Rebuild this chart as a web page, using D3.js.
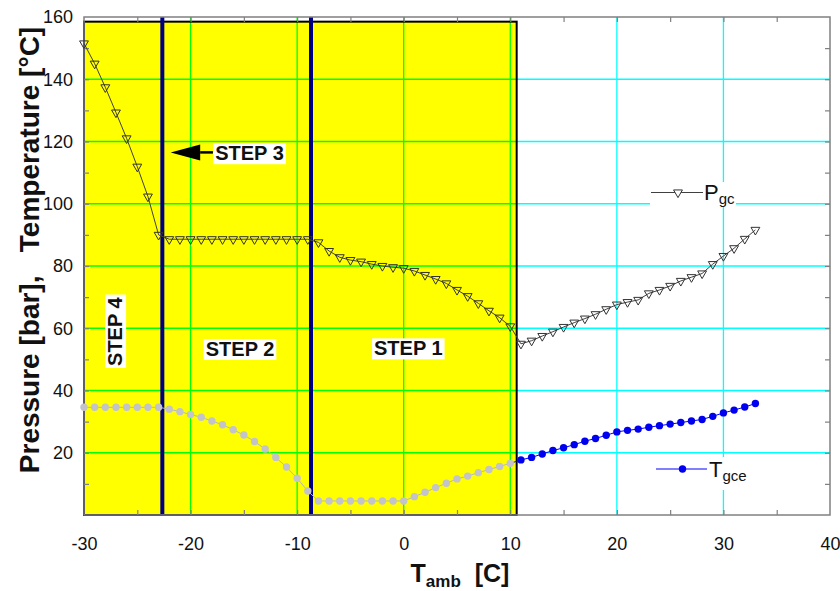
<!DOCTYPE html>
<html>
<head>
<meta charset="utf-8">
<script src="https://cdn.jsdelivr.net/npm/d3@7"></script>
<style>
body { margin: 0; background: #fff; }
text { font-family: "Liberation Sans", Arial, sans-serif; }
</style>
</head>
<body>
<div class="chart"></div>
<script>
// ambient temperature, one point per degree
var tamb = [-30, -29, -28, -27, -26, -25, -24, -23, -22, -21, -20, -19, -18, -17, -16, -15, -14, -13, -12, -11,
  -10, -9, -8, -7, -6, -5, -4, -3, -2, -1, 0, 1, 2, 3, 4, 5, 6, 7, 8, 9,
  10, 11, 12, 13, 14, 15, 16, 17, 18, 19, 20, 21, 22, 23, 24, 25, 26, 27, 28, 29,
  30, 31, 32, 33];

// gas cooler pressure [bar]
var pgc = [151.5, 145, 137.4, 129.3, 121, 111.9, 102.3, 90, 88.6, 88.6, 88.6, 88.6, 88.6, 88.6, 88.6, 88.6, 88.6, 88.6, 88.6, 88.6,
  88.6, 88.6, 87.6, 84.8, 82.8, 81.9, 81.4, 80.6, 80, 79.6, 79.3, 78.4, 77.1, 75.8, 74.4, 72.3, 70.3, 68, 65.6, 63.4,
  60.6, 55, 56, 57.5, 58.9, 60.4, 61.8, 63.1, 64.5, 66.1, 67.6, 68.4, 69.1, 71.2, 72.3, 73.6, 75.2, 76.4, 77.6, 80.6,
  83.2, 85.7, 88.7, 91.6];

// gas cooler exit temperature [C]
var tgce = [34.6, 34.6, 34.6, 34.6, 34.6, 34.6, 34.6, 34.6, 34, 33.2, 32.3, 31.4, 30.2, 29, 27.4, 25.7, 23.6, 21.2, 18.5, 15.4,
  11.8, 7.7, 4.5, 4.5, 4.5, 4.5, 4.5, 4.5, 4.5, 4.5, 4.5, 5.9, 7.3, 8.8, 10.2, 11.6, 12.5, 13.6, 14.6, 15.6,
  16.6, 17.7, 18.5, 19.6, 20.7, 21.6, 22.6, 23.7, 24.6, 25.6, 26.7, 27.2, 27.6, 28.2, 28.7, 29.2, 29.7, 30.2, 30.7, 31.7,
  32.8, 33.7, 34.7, 35.8];

var xTicks = [-30, -20, -10, 0, 10, 20, 30, 40];
var yTicks = [20, 40, 60, 80, 100, 120, 140, 160];
var xMinor = [-25, -20, -15, -10, -5, 0, 5, 10, 15, 20, 25, 30, 35];
var yMinor = [10, 20, 30, 40, 50, 60, 70, 80, 90, 100, 110, 120, 130, 140, 150];
var xGrid = [-20, -10, 0, 10, 20, 30];
var yGrid = [20, 40, 60, 80, 100, 120, 140];

var stepLines = [-22.65, -8.7];
var zone = [-30, 10.6];
var zoneTop = 158.5;
var greyUpTo = 10;

// step labels: [text, tamb, value, rotated]
var steps = [
  ["STEP 1", 0.43, 53.6, false],
  ["STEP 2", -15.36, 53.4, false],
  ["STEP 3", -14.47, 116.3, false],
  ["STEP 4", -27.1, 58.9, true]
];
var arrow = { from: -17.9, head: -19.1, tip: -21.87, y: 116.5 };

var width = 840;
var height = 591;

var x = d3.scaleLinear().domain([-30, 40]).range([84, 830]);
var y = d3.scaleLinear().domain([0, 160]).range([515, 17]);

var svg = d3.select(".chart").append("svg")
    .attr("width", width)
    .attr("height", height)
    .style("display", "block");

svg.append("rect").attr("width", width).attr("height", height).attr("fill", "#fff");

// yellow zone
svg.append("rect")
    .attr("x", x(zone[0])).attr("y", y(zoneTop))
    .attr("width", x(zone[1]) - x(zone[0]))
    .attr("height", y(0) - y(zoneTop))
    .attr("fill", "#ffff00");

// grid: green over the yellow zone, cyan elsewhere
var grid = svg.append("g");
xGrid.forEach(function(v) {
  grid.append("line")
      .attr("x1", x(v)).attr("x2", x(v))
      .attr("y1", y(160)).attr("y2", y(0))
      .attr("stroke", v < zone[1] ? "#00ff00" : "#00ffff")
      .attr("stroke-width", 1.3);
});
yGrid.forEach(function(v) {
  grid.append("line")
      .attr("x1", x(-30)).attr("x2", x(zone[1]))
      .attr("y1", y(v)).attr("y2", y(v))
      .attr("stroke", "#00ff00").attr("stroke-width", 1.3);
  grid.append("line")
      .attr("x1", x(zone[1])).attr("x2", x(40))
      .attr("y1", y(v)).attr("y2", y(v))
      .attr("stroke", "#00ffff").attr("stroke-width", 1.3);
});

// zone border
svg.append("rect")
    .attr("x", x(zone[0])).attr("y", y(zoneTop))
    .attr("width", x(zone[1]) - x(zone[0]))
    .attr("height", y(0) - y(zoneTop))
    .attr("fill", "none")
    .attr("stroke", "#000").attr("stroke-width", 2);

// step boundaries
svg.selectAll(".step-line").data(stepLines).enter().append("line")
    .attr("class", "step-line")
    .attr("x1", function(d) { return x(d); }).attr("x2", function(d) { return x(d); })
    .attr("y1", y(160)).attr("y2", y(0))
    .attr("stroke", "#000080").attr("stroke-width", 4);

// frame and ticks
var frame = svg.append("g").attr("stroke", "#808080");
frame.append("rect")
    .attr("x", x(-30)).attr("y", y(160))
    .attr("width", x(40) - x(-30)).attr("height", y(0) - y(160))
    .attr("fill", "none").attr("stroke-width", 1.5);

function tickAxis(axis, tr) {
  var g = svg.append("g").attr("transform", tr).call(axis);
  g.select(".domain").remove();
  g.selectAll("line").attr("stroke", "#808080").attr("stroke-width", 1.2);
  g.selectAll("text").remove();
}
tickAxis(d3.axisBottom(x).tickValues(xMinor).tickSize(-5), "translate(0," + y(0) + ")");
tickAxis(d3.axisTop(x).tickValues(xMinor).tickSize(-5), "translate(0," + y(160) + ")");
tickAxis(d3.axisLeft(y).tickValues(yMinor).tickSize(-5), "translate(" + x(-30) + ",0)");
tickAxis(d3.axisRight(y).tickValues(yMinor).tickSize(-5), "translate(" + x(40) + ",0)");

// tick labels (plain hyphen minus, like the original)
var plain = function(d) { return String(d); };
var xAxis = svg.append("g").attr("transform", "translate(0," + y(0) + ")")
    .call(d3.axisBottom(x).tickValues(xTicks).tickFormat(plain).tickSize(0).tickPadding(22));
var yAxis = svg.append("g").attr("transform", "translate(" + x(-30) + ",0)")
    .call(d3.axisLeft(y).tickValues(yTicks).tickFormat(plain).tickSize(0).tickPadding(11));
[xAxis, yAxis].forEach(function(g) {
  g.select(".domain").remove();
  g.selectAll("text")
      .attr("fill", "#111")
      .style("font-size", "18px")
      .style("font-family", "'Liberation Sans', Arial, sans-serif");
});

// series
var pts = tamb.map(function(t, i) { return { t: t, p: pgc[i], g: tgce[i] }; });

var lineP = d3.line().x(function(d) { return x(d.t); }).y(function(d) { return y(d.p); });
var lineG = d3.line().x(function(d) { return x(d.t); }).y(function(d) { return y(d.g); });

var coldPts = pts.filter(function(d) { return d.t <= greyUpTo; });
var warmPts = pts.filter(function(d) { return d.t >= greyUpTo; });

svg.append("path").datum(coldPts).attr("d", lineG)
    .attr("fill", "none").attr("stroke", "#b8b8c0").attr("stroke-width", 1);
svg.append("path").datum(warmPts).attr("d", lineG)
    .attr("fill", "none").attr("stroke", "#0000ff").attr("stroke-width", 1);

svg.selectAll(".gdot").data(pts).enter().append("circle")
    .attr("class", "gdot")
    .attr("cx", function(d) { return x(d.t); })
    .attr("cy", function(d) { return y(d.g); })
    .attr("r", 3.7)
    .attr("fill", function(d) { return d.t <= greyUpTo ? "#c3c3cb" : "#0000f0"; });

svg.append("path").datum(pts).attr("d", lineP)
    .attr("fill", "none").attr("stroke", "#404040").attr("stroke-width", 1);

var tri = d3.symbol().type(d3.symbolTriangle).size(34);
svg.selectAll(".pmark").data(pts).enter().append("path")
    .attr("class", "pmark")
    .attr("d", tri)
    .attr("transform", function(d) { return "translate(" + x(d.t) + "," + y(d.p) + ") rotate(180)"; })
    .attr("fill", "none").attr("stroke", "#333").attr("stroke-width", 1);

// step labels
steps.forEach(function(s) {
  var g = svg.append("g")
      .attr("transform", "translate(" + x(s[1]) + "," + y(s[2]) + ")" + (s[3] ? " rotate(-90)" : ""));
  var t = g.append("text")
      .attr("text-anchor", "middle")
      .attr("dy", "0.36em")
      .style("font-size", "20px").style("font-weight", "bold")
      .attr("fill", "#111")
      .text(s[0]);
  var b = t.node().getBBox();
  g.insert("rect", "text")
      .attr("x", b.x - 2).attr("y", b.y + 1)
      .attr("width", b.width + 4).attr("height", b.height - 1)
      .attr("fill", "#fff");
});

// arrow to STEP 3 boundary
svg.append("line")
    .attr("x1", x(arrow.from)).attr("x2", x(arrow.head))
    .attr("y1", y(arrow.y)).attr("y2", y(arrow.y))
    .attr("stroke", "#000").attr("stroke-width", 2.5);
svg.append("path")
    .attr("d", "M" + x(arrow.tip) + "," + y(arrow.y) +
      "L" + x(arrow.head) + "," + (y(arrow.y) - 8) +
      "L" + x(arrow.head) + "," + (y(arrow.y) + 8) + "Z")
    .attr("fill", "#000");

// legends
var legP = svg.append("g");
legP.append("rect").attr("x", 650).attr("y", 182).attr("width", 86).attr("height", 25).attr("fill", "#fff");
legP.append("line").attr("x1", 651).attr("x2", 703).attr("y1", 192.5).attr("y2", 192.5)
    .attr("stroke", "#404040").attr("stroke-width", 1);
legP.append("path").attr("d", tri).attr("transform", "translate(678,192.5) rotate(180)")
    .attr("fill", "#fff").attr("stroke", "#333");
var lp = legP.append("text").attr("x", 704).attr("y", 200).attr("fill", "#111").style("font-size", "22px");
lp.append("tspan").text("P");
lp.append("tspan").attr("dy", 4).style("font-size", "15px").text("gc");

var legG = svg.append("g");
legG.append("rect").attr("x", 650).attr("y", 457).attr("width", 92).attr("height", 33).attr("fill", "#fff");
legG.append("line").attr("x1", 656).attr("x2", 707).attr("y1", 469).attr("y2", 469)
    .attr("stroke", "#0000ff").attr("stroke-width", 1);
legG.append("circle").attr("cx", 682.5).attr("cy", 469).attr("r", 3.7).attr("fill", "#0000f0");
var lg = legG.append("text").attr("x", 709).attr("y", 477).attr("fill", "#111").style("font-size", "22px");
lg.append("tspan").text("T");
lg.append("tspan").attr("dy", 4).style("font-size", "15px").text("gce");

// axis titles
svg.append("text")
    .attr("transform", "translate(39,250) rotate(-90)")
    .attr("text-anchor", "middle")
    .style("font-size", "28px").style("font-weight", "bold")
    .attr("fill", "#111")
    .text("Pressure [bar],\u00a0\u00a0 Temperature [°C]");

var xt = svg.append("text")
    .attr("x", 460).attr("y", 582)
    .attr("text-anchor", "middle")
    .style("font-size", "25px").style("font-weight", "bold")
    .attr("fill", "#111");
xt.append("tspan").text("T");
xt.append("tspan").attr("dy", 5).style("font-size", "17px").text("amb");
xt.append("tspan").attr("dy", -5).text("\u00a0\u00a0[C]");
</script>
</body>
</html>
